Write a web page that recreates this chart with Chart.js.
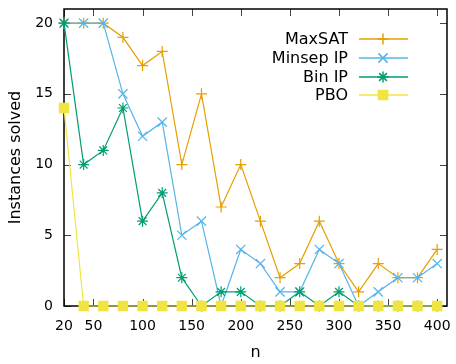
<!DOCTYPE html>
<html lang="en">
<head>
    <meta charset="UTF-8">
    <title>Instances solved vs n</title>
    <script src="https://cdn.jsdelivr.net/npm/chart.js@4.4.1/dist/chart.umd.min.js"></script>
    <style>
        html, body {
            margin: 0;
            padding: 0;
            background: #ffffff;
        }
        .chart-wrapper {
            position: relative;
            width: 456px;
            height: 364px;
        }
    </style>
</head>
<body>
    <div class="chart-wrapper">
        <canvas id="solvedChart"></canvas>
    </div>

    <script>
        // Data
        const nValues = [20, 40, 60, 80, 100, 120, 140, 160, 180, 200, 220, 240, 260, 280, 300, 320, 340, 360, 380, 400];
        const maxSat  = [20, 20, 20, 19, 17, 18, 10, 15, 7, 10, 6, 2, 3, 6, 3, 1, 3, 2, 2, 4];
        const minsepIP = [20, 20, 20, 15, 12, 13, 5, 6, 0, 4, 3, 1, 1, 4, 3, 0, 1, 2, 2, 3];
        const binIP   = [20, 10, 11, 14, 6, 8, 2, 0, 1, 1, 0, 0, 1, 0, 1, 0, 0, 0, 0, 0];
        const pbo     = [14, 0, 0, 0, 0, 0, 0, 0, 0, 0, 0, 0, 0, 0, 0, 0, 0, 0, 0, 0];

        const xTicks = [20, 50, 100, 150, 200, 250, 300, 350, 400];
        const yTicks = [0, 5, 10, 15, 20];

        const FONT = "'DejaVu Sans', sans-serif";

        function toPoints(values) {
            return nValues.map((n, i) => ({ x: n, y: values[i] }));
        }

        const seriesDefs = [
            { label: 'MaxSAT',    data: maxSat,   color: '#e69f00', style: 'cross',    radius: 5.5, order: 3 },
            { label: 'Minsep IP', data: minsepIP, color: '#56b4e9', style: 'crossRot', radius: 6.5, order: 2 },
            { label: 'Bin IP',    data: binIP,    color: '#009e73', style: 'star',     radius: 5.5, order: 1 },
            { label: 'PBO',       data: pbo,      color: '#f0e442', style: 'rect',     radius: 6.5, order: 0 }
        ];

        // no extra edge padding from tick labels, keep the box where gnuplot has it
        function noPad(scale) {
            scale.paddingTop = 0;
            scale.paddingBottom = 0;
            scale.paddingLeft = 0;
            scale.paddingRight = 0;
        }

        // frame + inward ticks (gnuplot look)
        const framePlugin = {
            id: 'frame',
            beforeDatasetsDraw(chart) {
                const { ctx, chartArea: a, scales } = chart;
                const len = 7;
                ctx.save();
                ctx.strokeStyle = '#444444';
                ctx.lineWidth = 1;
                ctx.beginPath();
                xTicks.forEach(v => {
                    const px = Math.round(scales.x.getPixelForValue(v)) + 0.5;
                    ctx.moveTo(px, a.bottom); ctx.lineTo(px, a.bottom - len);
                    ctx.moveTo(px, a.top); ctx.lineTo(px, a.top + len);
                });
                yTicks.forEach(v => {
                    const py = Math.round(scales.y.getPixelForValue(v)) + 0.5;
                    ctx.moveTo(a.left, py); ctx.lineTo(a.left + len, py);
                    ctx.moveTo(a.right, py); ctx.lineTo(a.right - len, py);
                });
                ctx.stroke();
                ctx.strokeStyle = '#000000';
                ctx.lineWidth = 1.5;
                ctx.strokeRect(a.left, a.top, a.right - a.left, a.bottom - a.top);
                ctx.restore();
            }
        };

        // legend inside top right, text right-aligned then line sample
        const keyPlugin = {
            id: 'key',
            afterDatasetsDraw(chart) {
                const { ctx } = chart;
                const textRight = 348;
                const lineStart = 359, lineEnd = 408, markX = 383;
                const rowY = [39, 58, 77, 95];
                ctx.save();
                ctx.font = '16px ' + FONT;
                ctx.textAlign = 'right';
                ctx.textBaseline = 'middle';
                seriesDefs.forEach((s, i) => {
                    const y = rowY[i];
                    ctx.fillStyle = '#000000';
                    ctx.fillText(s.label, textRight, y + 1);
                    ctx.strokeStyle = s.color;
                    ctx.lineWidth = 1.5;
                    ctx.beginPath();
                    ctx.moveTo(lineStart, y);
                    ctx.lineTo(lineEnd, y);
                    ctx.stroke();
                    ctx.fillStyle = s.color;
                    Chart.helpers.drawPoint(ctx, {
                        pointStyle: s.style,
                        radius: s.radius,
                        borderWidth: 1.2,
                        rotation: 0
                    }, markX, y);
                });
                ctx.restore();
            }
        };

        new Chart(document.getElementById('solvedChart'), {
            type: 'line',
            data: {
                datasets: seriesDefs.map(s => ({
                    label: s.label,
                    data: toPoints(s.data),
                    borderColor: s.color,
                    backgroundColor: s.color,
                    borderWidth: 1.2,
                    pointStyle: s.style,
                    pointRadius: s.radius,
                    pointBorderWidth: 1.2,
                    pointBackgroundColor: s.color,
                    pointBorderColor: s.color,
                    tension: 0,
                    clip: false,
                    order: s.order
                }))
            },
            options: {
                responsive: true,
                maintainAspectRatio: false,
                animation: false,
                layout: {
                    padding: { top: 9, right: 9, left: 0, bottom: 0 }
                },
                plugins: {
                    legend: { display: false },
                    tooltip: { enabled: false }
                },
                scales: {
                    x: {
                        type: 'linear',
                        min: 20,
                        max: 410,
                        afterBuildTicks: scale => {
                            scale.ticks = xTicks.map(v => ({ value: v }));
                        },
                        afterFit: scale => { scale.height = 58; noPad(scale); },
                        grid: { display: false, drawTicks: false },
                        border: { display: false },
                        ticks: {
                            color: '#000000',
                            font: { family: FONT, size: 14 },
                            padding: 12,
                            maxRotation: 0,
                            autoSkip: false,
                            callback: v => String(v)
                        },
                        title: {
                            display: true,
                            text: 'n',
                            color: '#000000',
                            font: { family: FONT, size: 16 },
                            padding: { top: 0, bottom: 2 }
                        }
                    },
                    y: {
                        type: 'linear',
                        min: 0,
                        max: 21,
                        afterBuildTicks: scale => {
                            scale.ticks = yTicks.map(v => ({ value: v }));
                        },
                        afterFit: scale => { scale.width = 64; noPad(scale); },
                        grid: { display: false, drawTicks: false },
                        border: { display: false },
                        ticks: {
                            color: '#000000',
                            font: { family: FONT, size: 14 },
                            padding: 11,
                            callback: v => String(v)
                        },
                        title: {
                            display: true,
                            text: 'Instances solved',
                            color: '#000000',
                            font: { family: FONT, size: 16 },
                            padding: { top: 6, bottom: 0 }
                        }
                    }
                }
            },
            plugins: [framePlugin, keyPlugin]
        });
    </script>
</body>
</html>
